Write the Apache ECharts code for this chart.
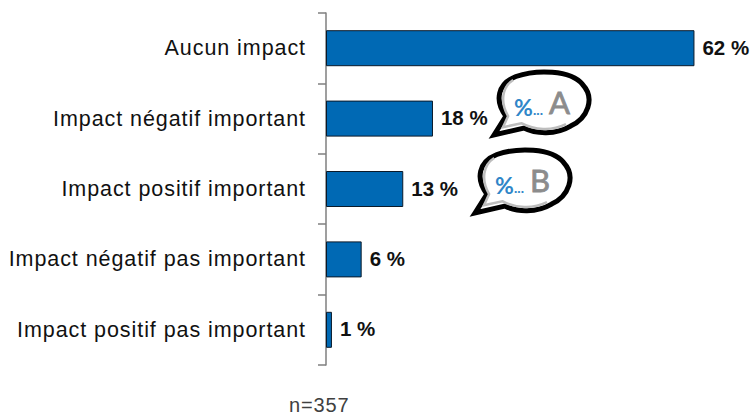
<!DOCTYPE html>
<html><head><meta charset="utf-8">
<style>html,body{margin:0;padding:0;background:#fff}#c{width:752px;height:416px}
#c svg text{letter-spacing:.93px}
#c svg text[style*="bold"]{letter-spacing:0}
#c svg text[style*="Lato"]{letter-spacing:0}
#c svg text[style*="20px"]{letter-spacing:.85px}
</style>
<script src="https://cdn.jsdelivr.net/npm/echarts@6/dist/echarts.min.js"></script>
</head><body><div id="c"></div>
<script>
const categories = ["Aucun impact","Impact négatif important","Impact positif important","Impact négatif pas important","Impact positif pas important"];
const values = [62,18,13,6,1];
const bubbleLetters = ["A","B"];
const sampleSize = "n=357";

const font = '"Liberation Sans", Arial, sans-serif';
const chart = echarts.init(document.getElementById('c'), null, {renderer:'svg'});

const outline = 'M493 135 L505 116 C493 100 497 83 515 76 C535 69 570 69 582 84 C595 98 587 118 570 126 C555 135 535 134 523 128 Z';
const shade = 'M514 80 C503 87 501 102 509 116 L504 127 L522 123 C535 130 552 131 566 124';
const offsets = [[0,0],[-19,78]];

function renderBubble(params){
  const i = params.dataIndex;
  const letter = bubbleLetters[i];
  return {type:'group', x:offsets[i][0], y:offsets[i][1], silent:true, children:[
    {type:'path', shape:{pathData:outline,x:494,y:72,width:95,height:63,layout:'cover'}, style:{fill:'#fff',stroke:'#000',lineWidth:5}},
    {type:'path', shape:{pathData:shade,x:503,y:80,width:63,height:49,layout:'cover'}, style:{fill:'none',stroke:'#bdbdbd',lineWidth:2.5}},
    {type:'text', x:514, y:95, style:{text:'%',fill:'#2f86c8',font:'bold 23px Lato, sans-serif'}},
    {type:'text', x:533, y:102, style:{text:'...',fill:'#2f86c8',font:'bold 14px Lato, sans-serif'}},
    {type:'text', x:549, y:86, style:{text:letter,fill:'#8c8c8c',stroke:'#8c8c8c',lineWidth:.8,font:'31px Lato, sans-serif'}}
  ]};
}

chart.setOption({
  animation:false,
  backgroundColor:'#fff',
  title:{text:sampleSize,left:289,top:395,textStyle:{color:'#404040',fontFamily:font,fontSize:20,fontWeight:'normal'},padding:0},
  grid:{left:326,top:13,width:416,height:352},
  xAxis:{type:'value',min:0,max:70,show:false},
  yAxis:{type:'category',inverse:true,data:categories,
    axisLine:{show:true,lineStyle:{color:'#7f7f7f',width:1.5}},
    axisTick:{show:true,length:8,lineStyle:{color:'#7f7f7f',width:1.5}},
    axisLabel:{color:'#111',fontFamily:font,fontSize:21.5,margin:20,padding:[0,0,2,0]}
  },
  series:[{type:'bar',data:values,barWidth:36,
    itemStyle:{color:'#0069b4',borderColor:'#0a1a2a',borderWidth:1},
    label:{show:true,position:'right',distance:8,offset:[0,-1],formatter:'{c} %',color:'#111',fontFamily:font,fontSize:20.5,fontWeight:'bold'}
  },{type:'custom',coordinateSystem:'none',data:bubbleLetters,renderItem:renderBubble,silent:true,clip:false,z:5}]
});
</script></body></html>
